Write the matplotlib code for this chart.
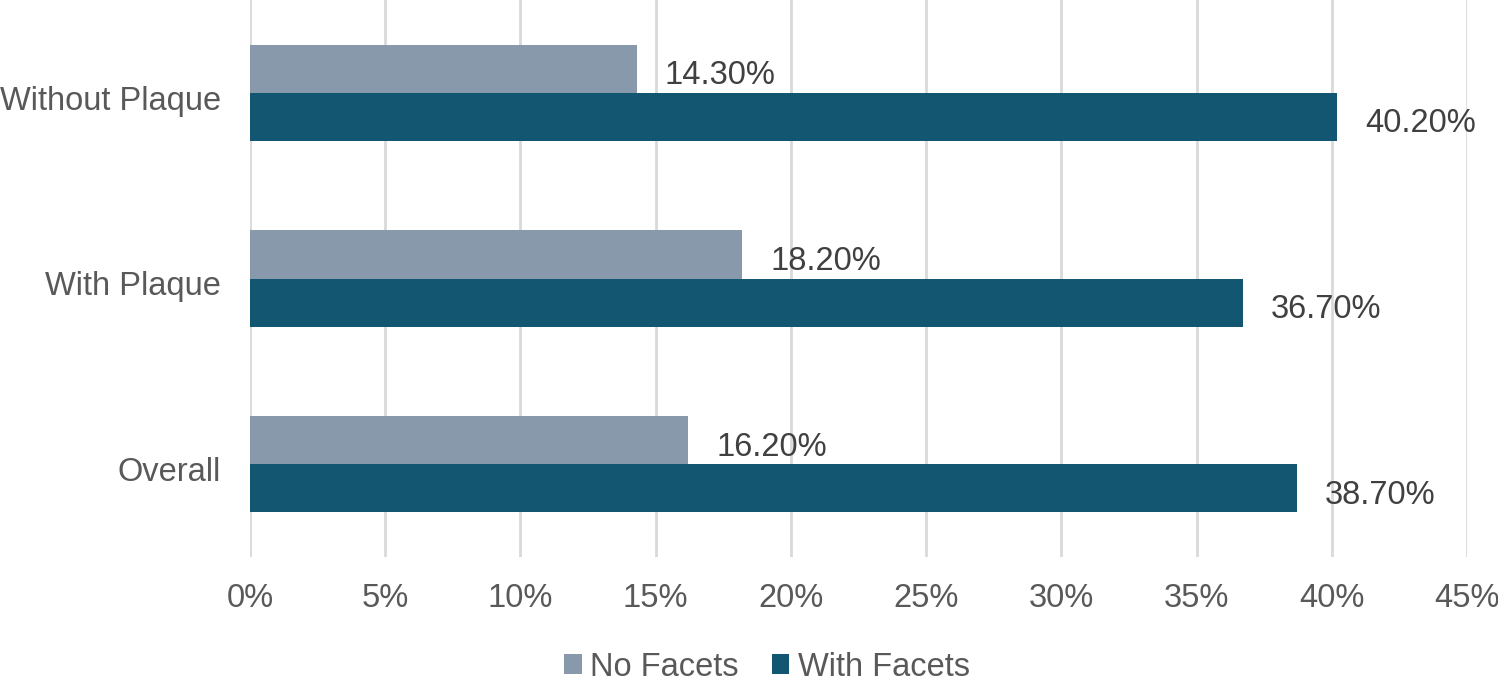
import matplotlib
matplotlib.use("Agg")
import matplotlib.pyplot as plt
from matplotlib.ticker import FuncFormatter, MultipleLocator
from matplotlib.transforms import ScaledTranslation
import numpy as np

plt.rcParams['font.family'] = ['Liberation Sans', 'DejaVu Sans']

categories = ["Overall", "With Plaque", "Without Plaque"]
no_facets = [16.2, 18.2, 14.3]
with_facets = [38.7, 36.7, 40.2]
series_names = ["No Facets", "With Facets"]
colors = ["#8799AA", "#135672"]

FS = 23.5
fig = plt.figure(figsize=(14.98, 6.8), dpi=100)
ax = fig.add_axes([250/1498, 1-557/680, (1467-250)/1498, 557/680])

y = np.arange(len(categories))
h = 0.26
b1 = ax.barh(y + h/2, no_facets, height=h, color=colors[0], label=series_names[0], zorder=3)
b2 = ax.barh(y - h/2, with_facets, height=h, color=colors[1], label=series_names[1], zorder=3)

for bars, vals in ((b1, no_facets), (b2, with_facets)):
    for bar, v in zip(bars, vals):
        ax.annotate(f"{v:.2f}%", (v, bar.get_y() + bar.get_height()/2),
                    xytext=(28, -7), textcoords="offset pixels",
                    ha="left", va="center", fontsize=FS, color="#404040")

ax.set_xlim(0, 45)
ax.set_ylim(-0.5, 2.5)
ax.xaxis.set_major_locator(MultipleLocator(5))
ax.xaxis.set_major_formatter(FuncFormatter(lambda v, p: f"{v:.0f}%"))
ax.set_yticks(y)
ax.set_yticklabels(categories)
ax.tick_params(axis="both", length=0, labelsize=FS, labelcolor="#595959")
ax.tick_params(axis="x", pad=19)
ax.tick_params(axis="y", pad=21)
off = ScaledTranslation(0, -5/100, fig.dpi_scale_trans)
for lab in ax.get_yticklabels():
    lab.set_transform(lab.get_transform() + off)
ax.grid(axis="x", color="#D9D9D9", linewidth=2, zorder=0)
for s in ax.spines.values():
    s.set_visible(False)

leg = fig.legend(handles=[b1, b2], loc="center", bbox_to_anchor=(0.512, 1-667/680),
                 ncol=2, frameon=False, fontsize=FS, handlelength=0.55, handleheight=0.55,
                 handletextpad=0.25, columnspacing=1.0, labelcolor="#595959")

fig.savefig("out.png", dpi=100)
